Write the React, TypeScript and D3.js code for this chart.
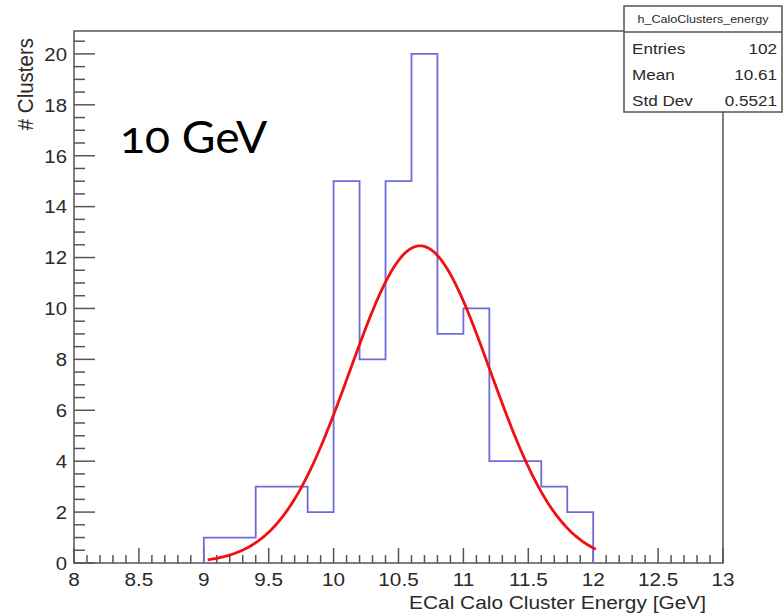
import React from "react";
import * as d3 from "d3";

// ---- data ----
const BIN_STARTS = [9.0, 9.2, 9.4, 9.6, 9.8, 10.0, 10.2, 10.4, 10.6, 10.8, 11.0, 11.2, 11.4, 11.6, 11.8];
const BIN_COUNTS = [1, 1, 3, 3, 2, 15, 8, 15, 20, 9, 10, 4, 4, 3, 2];
const BIN_WIDTH = 0.2;

// Gaussian fit drawn on top (parameters)
const FIT_AMPLITUDE = 12.46;
const FIT_MEAN = 10.666;
const FIT_SIGMA = 0.54;
const FIT_RANGE = [9.03, 12.02];

const X_TICK_LABELS = ["8", "8.5", "9", "9.5", "10", "10.5", "11", "11.5", "12", "12.5", "13"];
const Y_TICK_LABELS = ["0", "2", "4", "6", "8", "10", "12", "14", "16", "18", "20"];

const STATS_TITLE = "h_CaloClusters_energy";
const STATS_NAMES = ["Entries", "Mean", "Std Dev"];
const STATS_VALUES = ["102", "10.61", "0.5521"];

const X_TITLE = "ECal Calo Cluster Energy [GeV]";
const Y_TITLE = "# Clusters";
const ANNOTATION = "10 GeV";

// ---- layout ----
const W = 784, H = 613;
const L = 74, R = 723, T = 31, B = 563;
const SX = 1.14;
const FONT = "'Liberation Sans', Arial, Helvetica, sans-serif";
const AXIS = "#555";
const TXT = "#2a2a2a";

function Txt({ x, y, size, anchor = "start", sx = SX, fill = TXT, family = FONT, style, children }: any) {
  return (
    <text
      transform={`translate(${x},${y}) scale(${sx},1)`}
      fontSize={size}
      fontFamily={family}
      textAnchor={anchor}
      fill={fill}
      style={style}
    >
      {children}
    </text>
  );
}

export default function App() {
  const x = d3.scaleLinear().domain([8, 13]).range([L, R]);
  const y = d3.scaleLinear().domain([0, 20.9]).range([B, T]);

  // histogram outline
  const pts: [number, number][] = [];
  pts.push([BIN_STARTS[0], 0]);
  BIN_STARTS.forEach((s, i) => {
    pts.push([s, BIN_COUNTS[i]]);
    pts.push([s + BIN_WIDTH, BIN_COUNTS[i]]);
  });
  pts.push([BIN_STARTS[BIN_STARTS.length - 1] + BIN_WIDTH, 0]);
  const histLine = d3.line<[number, number]>().x((d) => x(d[0])).y((d) => y(d[1]));

  const fitX = d3.range(FIT_RANGE[0], FIT_RANGE[1] + 1e-9, 0.01);
  const fitLine = d3
    .line<number>()
    .x((v) => x(v))
    .y((v) => y(FIT_AMPLITUDE * Math.exp(-0.5 * ((v - FIT_MEAN) / FIT_SIGMA) ** 2)))
    .curve(d3.curveLinear);

  const xMinor = d3.range(0, 51).map((i) => 8 + i * 0.1);
  const yMinor = d3.range(0, 42).map((i) => i * 0.5);

  return (
    <svg width={W} height={H} style={{ position: "absolute", left: 0, top: 0, background: "#fff" }}>
      <rect x={0} y={0} width={W} height={H} fill="#fff" />
      {/* frame */}
      <rect x={L} y={T} width={R - L} height={B - T} fill="none" stroke={AXIS} strokeWidth={1.5} />

      {/* x ticks */}
      {xMinor.map((v, i) => (
        <line
          key={"xt" + i}
          x1={x(v)}
          x2={x(v)}
          y1={B}
          y2={B - (i % 5 === 0 ? 15 : 8)}
          stroke={AXIS}
          strokeWidth={1.5}
        />
      ))}
      {/* y ticks */}
      {yMinor.map((v, i) => (
        <line
          key={"yt" + i}
          x1={L}
          x2={L + (i % 4 === 0 ? 21 : 11)}
          y1={y(v)}
          y2={y(v)}
          stroke={AXIS}
          strokeWidth={1.5}
        />
      ))}

      {/* x tick labels */}
      {X_TICK_LABELS.map((t) => (
        <Txt key={"xl" + t} x={x(+t)} y={586} size={18.5} anchor="middle" sx={1.12}>
          {t}
        </Txt>
      ))}
      {/* y tick labels */}
      {Y_TICK_LABELS.map((t) => (
        <Txt key={"yl" + t} x={67} y={y(+t) + 6.8} size={18.5} anchor="end" sx={1.1}>
          {t}
        </Txt>
      ))}

      {/* axis titles */}
      <Txt x={706} y={609} size={18} anchor="end" sx={1.16}>
        {X_TITLE}
      </Txt>
      <text
        transform={`translate(33,38) rotate(-90) scale(1,1.12)`}
        fontSize={20.5}
        fontFamily={FONT}
        textAnchor="end"
        fill={TXT}
      >
        {Y_TITLE}
      </text>

      {/* histogram */}
      <path d={histLine(pts) || ""} fill="none" stroke="#6b6bdc" strokeWidth={1.8} />

      {/* fit */}
      <path d={fitLine(fitX) || ""} fill="none" stroke="#f01010" strokeWidth={2.8} strokeLinejoin="round" />

      {/* annotation */}
      <Txt
        x={120}
        y={153}
        size={44}
        sx={1.05}
        fill="#000"
        family="Lato, 'Open Sans', sans-serif"
        style={{ fontVariantNumeric: "oldstyle-nums", fontFeatureSettings: "'onum' 1" }}
      >
        {ANNOTATION}
      </Txt>

      {/* stats box */}
      <rect x={624} y={6} width={158} height={106} fill="#fff" stroke={AXIS} strokeWidth={1.5} />
      <line x1={624} x2={782} y1={32} y2={32} stroke={AXIS} strokeWidth={1.5} />
      <Txt x={703} y={23} size={11} anchor="middle">
        {STATS_TITLE}
      </Txt>
      {STATS_NAMES.map((n, i) => (
        <g key={"st" + i}>
          <Txt x={632} y={54 + i * 26} size={15}>
            {n}
          </Txt>
          <Txt x={777} y={54 + i * 26} size={15} anchor="end">
            {STATS_VALUES[i]}
          </Txt>
        </g>
      ))}
    </svg>
  );
}
